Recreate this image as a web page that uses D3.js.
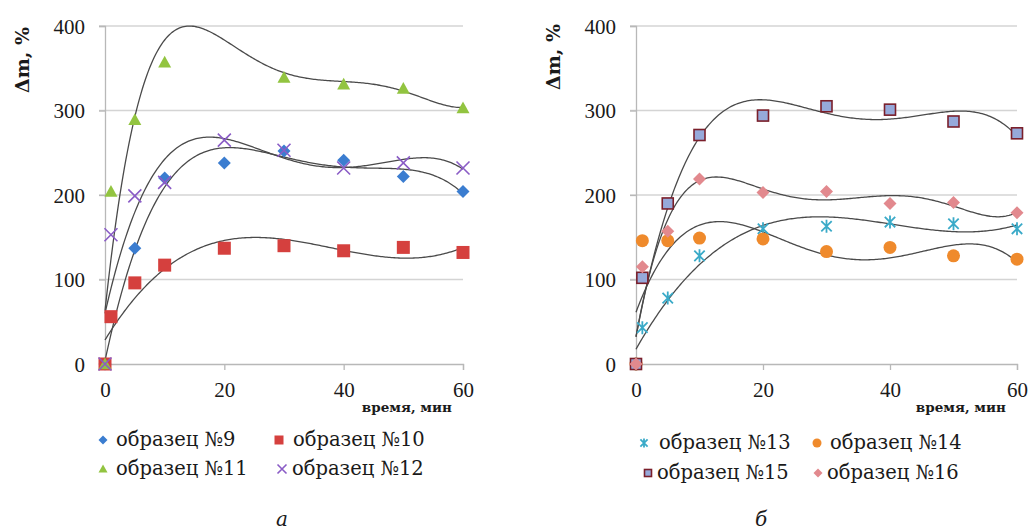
<!DOCTYPE html>
<html>
<head>
<meta charset="utf-8">
<script src="https://cdn.jsdelivr.net/npm/d3@7"></script>
<style>
body { margin: 0; background: #fff; }
</style>
</head>
<body>
<script>
var svg_width  = 1030;
var svg_height = 530;
var FONT = "'Liberation Serif', serif";
// Liberation Serif has no cyrillic here
var FONT_CYR = "'DejaVu Serif', serif";

// time points, min
var t_full = [0, 1, 5, 10, 20, 30, 40, 50, 60];
var t_no1  = [0, 5, 10, 20, 30, 40, 50, 60];

// panel a
var dm_9  = [0, 137, 220, 238, 252, 241, 222, 204];
var dm_10 = [0, 56, 96, 117, 137, 140, 134, 138, 132];
var dm_11 = [0, 204, 289, 357, 403, 339, 331, 326, 303];   // t=20 lies above the plot, not shown
var dm_12 = [0, 153, 199, 215, 265, 253, 232, 238, 232];

// panel b
var dm_13 = [0, 43, 78, 128, 160, 163, 168, 166, 160];
var dm_14 = [0, 146, 146, 149, 148, 133, 138, 128, 124];
var dm_15 = [0, 102, 190, 271, 294, 305, 301, 287, 273];
var dm_16 = [0, 115, 157, 219, 203, 204, 190, 191, 179];

var yTicks = [0, 100, 200, 300, 400];
var xTicks = [0, 20, 40, 60];

// order = polynomial trend line order
var seriesA = [
  {name: "образец №9",  t: t_no1,  v: dm_9,  order: 4, mark: "diamond",  fill: "#3b7dd0"},
  {name: "образец №10", t: t_full, v: dm_10, order: 3, mark: "square",   fill: "#d5403e"},
  {name: "образец №11", t: t_full, v: dm_11, order: 5, mark: "triangle", fill: "#92c440"},
  {name: "образец №12", t: t_full, v: dm_12, order: 4, mark: "cross",    fill: "#8a5cc6"}
];
var seriesB = [
  {name: "образец №13",  t: t_full, v: dm_13, order: 3, mark: "star",    fill: "#3aaac8"},
  {name: "образец №14",  t: t_full, v: dm_14, order: 4, mark: "circle",  fill: "#ef8a2c"},
  {name: "образец №15",  t: t_full, v: dm_15, order: 4, mark: "box",     fill: "#96a9da"},
  {name: "образец  №16", t: t_full, v: dm_16, order: 5, mark: "diamond", fill: "#e2898e"}
];

var svg = d3.select('body').append('svg')
            .attr('width', svg_width)
            .attr('height', svg_height);

// least squares polynomial, like Excel trend line
function polyFit(xs, ys, order) {
  var n = order + 1;
  var A = [], b = [];
  for (var i = 0; i < n; i++) {
    A.push(new Array(n).fill(0));
    b.push(0);
  }
  xs.forEach(function(x, k) {
    var u = x / 60;
    for (var i = 0; i < n; i++) {
      b[i] += ys[k] * Math.pow(u, i);
      for (var j = 0; j < n; j++) A[i][j] += Math.pow(u, i + j);
    }
  });
  for (var c = 0; c < n; c++) {
    var p = c;
    for (var r = c + 1; r < n; r++) if (Math.abs(A[r][c]) > Math.abs(A[p][c])) p = r;
    var tmp = A[c]; A[c] = A[p]; A[p] = tmp;
    var tb = b[c]; b[c] = b[p]; b[p] = tb;
    for (var r = c + 1; r < n; r++) {
      var f = A[r][c] / A[c][c];
      for (var j = c; j < n; j++) A[r][j] -= f * A[c][j];
      b[r] -= f * b[c];
    }
  }
  var coef = new Array(n).fill(0);
  for (var i = n - 1; i >= 0; i--) {
    var s = b[i];
    for (var j = i + 1; j < n; j++) s -= A[i][j] * coef[j];
    coef[i] = s / A[i][i];
  }
  return function(x) {
    var u = x / 60, s = 0;
    for (var i = 0; i < n; i++) s += coef[i] * Math.pow(u, i);
    return s;
  };
}

function drawMark(g, mark, fill, size) {
  var h = size / 2;
  if (mark == "diamond") {
    g.append("path").attr("d", "M0," + (-h) + "L" + h + ",0L0," + h + "L" + (-h) + ",0Z")
     .attr("fill", fill);
  } else if (mark == "square") {
    g.append("rect").attr("x", -h).attr("y", -h).attr("width", size).attr("height", size)
     .attr("fill", fill);
  } else if (mark == "box") {
    g.append("rect").attr("x", -h + 1).attr("y", -h + 1).attr("width", size - 2).attr("height", size - 2)
     .attr("fill", fill).attr("stroke", "#7a1f2b").attr("stroke-width", 1.6);
  } else if (mark == "triangle") {
    g.append("path").attr("d", "M0," + (-h) + "L" + h + "," + (h * 0.8) + "L" + (-h) + "," + (h * 0.8) + "Z")
     .attr("fill", fill);
  } else if (mark == "circle") {
    g.append("circle").attr("r", h).attr("fill", fill);
  } else if (mark == "cross") {
    g.append("path").attr("d", "M" + (-h) + "," + (-h) + "L" + h + "," + h + "M" + (-h) + "," + h + "L" + h + "," + (-h))
     .attr("stroke", fill).attr("stroke-width", 1.6).attr("fill", "none");
  } else if (mark == "star") {
    var k = h * 0.8;
    g.append("path").attr("d", "M" + (-k) + "," + (-k) + "L" + k + "," + k + "M" + (-k) + "," + k + "L" + k + "," + (-k)
       + "M0," + (-h) + "L0," + h)
     .attr("stroke", fill).attr("stroke-width", 1.8).attr("fill", "none");
  }
}

function panel(id, x0, x1, series, labelX, labelY, legendPos, letter, letterX) {
  var x = d3.scaleLinear().domain([0, 60]).range([x0, x1]);
  var y = d3.scaleLinear().domain([0, 400]).range([364, 26]);
  var g = svg.append("g");

  g.append("clipPath").attr("id", id)
   .append("rect").attr("x", x0 - 2).attr("y", y(400) - 1)
   .attr("width", x1 - x0 + 4).attr("height", y(0) - y(400) + 12);

  // gridlines
  g.append("g").selectAll("line").data(yTicks.slice(1)).enter().append("line")
   .attr("x1", x0 - 6).attr("x2", x1)
   .attr("y1", d => y(d)).attr("y2", d => y(d))
   .attr("stroke", "#d4d4d4").attr("stroke-width", 1.3);

  var yAxis = g.append("g").attr("transform", "translate(" + x0 + ",0)")
    .call(d3.axisLeft(y).tickValues(yTicks).tickSize(6).tickPadding(14));
  var xAxis = g.append("g").attr("transform", "translate(0," + y(0) + ")")
    .call(d3.axisBottom(x).tickValues(xTicks).tickSize(6).tickPadding(12));
  [yAxis, xAxis].forEach(function(a) {
    a.attr("font-family", null);
    a.select(".domain").attr("stroke", "#b8b8b8").attr("stroke-width", 1.3);
    a.selectAll(".tick line").attr("stroke", "#b8b8b8").attr("stroke-width", 1.3);
    a.selectAll("text").style("font-family", FONT)
     .attr("font-size", 21).attr("fill", "#1a1a1a");
  });
  yAxis.selectAll(".tick text").attr("dy", "0.35em");

  // trend lines
  var line = d3.line().x(d => x(d[0])).y(d => y(d[1]));
  series.forEach(function(s) {
    var f = polyFit(s.t, s.v, s.order);
    var pts = d3.range(0, 60.01, 0.25).map(t => [t, f(t)]);
    g.append("path").attr("d", line(pts)).attr("clip-path", "url(#" + id + ")")
     .attr("fill", "none").attr("stroke", "#4a4a4a").attr("stroke-width", 1.3);
  });

  // points (ones above the axis max are not drawn)
  series.forEach(function(s) {
    s.v.forEach(function(v, i) {
      if (v > 400) return;
      var m = g.append("g").attr("transform", "translate(" + x(s.t[i]) + "," + y(v) + ")");
      drawMark(m, s.mark, s.fill, 13);
    });
  });

  g.append("text").attr("transform", "translate(" + labelX + "," + labelY + ") rotate(-90)")
   .attr("text-anchor", "middle").attr("font-weight", "bold").attr("font-size", 19)
   .style("font-family", FONT_CYR).attr("fill", "#1a1a1a").text("Δm, %");
  g.append("text").attr("x", x1 - 11).attr("y", 412).attr("text-anchor", "end")
   .attr("font-weight", "bold").attr("font-size", 13.5).style("font-family", FONT_CYR)
   .attr("fill", "#1a1a1a").text("время, мин");

  // legend
  series.forEach(function(s, i) {
    var p = legendPos[i];
    var lg = g.append("g").attr("transform", "translate(" + p[0] + "," + p[1] + ")");
    drawMark(lg, s.mark, s.fill, 9);
    lg.append("text").attr("x", p[2]).attr("y", 6).attr("font-size", 19.5)
      .style("font-family", FONT_CYR).attr("fill", "#1a1a1a").text(s.name);
  });

  g.append("text").attr("x", letterX).attr("y", 526).attr("text-anchor", "middle")
   .attr("font-style", "italic").attr("font-size", 20).style("font-family", FONT_CYR)
   .attr("fill", "#1a1a1a").text(letter);
}

panel("clipA", 105, 463, seriesA, 29, 60,
      [[103, 440, 13], [279, 440, 14], [103, 469, 13], [282, 469, 10]], "а", 282);
panel("clipB", 636, 1017, seriesB, 560, 57,
      [[644, 443, 15], [817, 443, 13], [648, 473, 9], [818, 473, 9]], "б", 761);
</script>
</body>
</html>
